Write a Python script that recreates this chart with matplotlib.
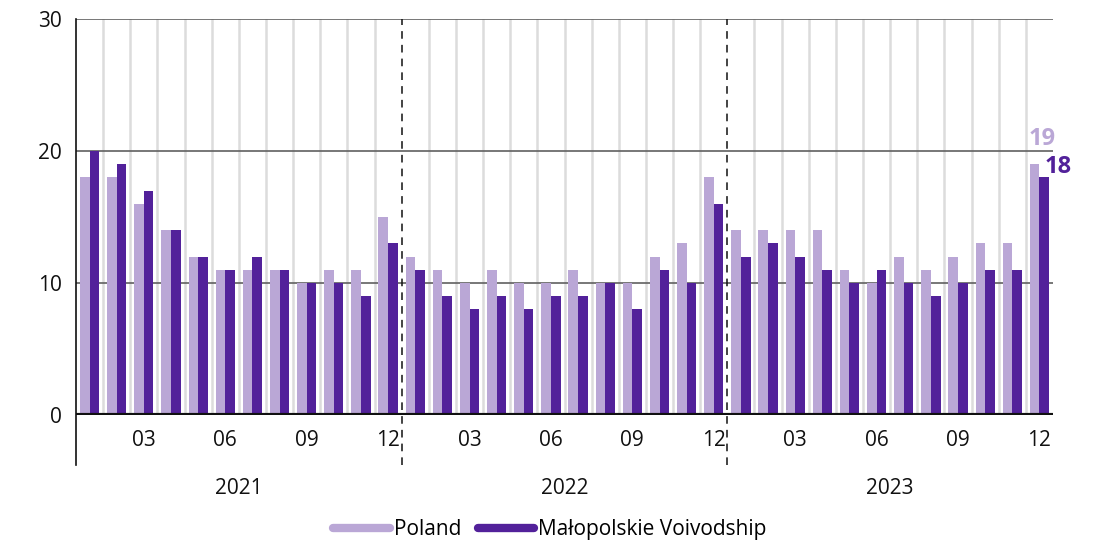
import matplotlib
matplotlib.use('Agg')
import matplotlib.pyplot as plt
import matplotlib.transforms as mtransforms
from matplotlib.lines import Line2D
import numpy as np

plt.rcParams['font.family'] = ['Open Sans', 'DejaVu Sans']

years = ['2021', '2022', '2023']
month_ticks = ['03', '06', '09', '12']
poland = [18, 18, 16, 14, 12, 11, 11, 11, 10, 11, 11, 15,
          12, 11, 10, 11, 10, 10, 11, 10, 10, 12, 13, 18,
          14, 14, 14, 14, 11, 10, 12, 11, 12, 13, 13, 19]
malopolska = [20, 19, 17, 14, 12, 11, 12, 11, 10, 10, 9, 13,
              11, 9, 8, 9, 8, 9, 9, 10, 8, 11, 10, 16,
              12, 13, 12, 11, 10, 11, 10, 9, 10, 11, 11, 18]

light = '#baa7d6'
dark = '#52219a'

n = len(poland)
x = np.arange(n) + 0.5
w = 0.355

fig = plt.figure(figsize=(11, 5.41), dpi=100)
ax = fig.add_axes([0.0691, 0.2329, 0.8882, 0.732])

# month separators
for b in range(1, n):
    if b % 12 == 0:
        continue
    ax.axvline(b, color='#dcdcdc', lw=1.8, zorder=0)

for v in [10, 20, 30]:
    ax.axhline(v, color='#606060', lw=1.2, zorder=1)

ax.bar(x - w / 2, poland, width=w, color=light, zorder=2)
ax.bar(x + w / 2, malopolska, width=w, color=dark, zorder=2)

ax.axhline(0, color='#111111', lw=3, zorder=3)

# year dividers and left axis line reaching down to the year labels
trans = mtransforms.blended_transform_factory(ax.transData, ax.transAxes)
for b in [12, 24]:
    ax.plot([b, b], [-0.126, 1], transform=trans, color='#111111', lw=1.1,
            ls=(0, (5, 4)), clip_on=False, zorder=4)
ax.plot([0, 0], [-0.126, 1], transform=trans, color='#111111', lw=1.2,
        clip_on=False, zorder=4)

ax.set_xlim(0, n)
ax.set_ylim(0, 30)
for s in ax.spines.values():
    s.set_visible(False)

ticks = [y * 12 + m - 0.5 for y in range(len(years)) for m in (3, 6, 9, 12)]
ax.set_xticks(ticks)
ax.set_xticklabels(month_ticks * len(years))
ax.set_yticks([0, 10, 20, 30])
ax.tick_params(axis='both', length=0, labelsize=15, colors='#111111')
ax.tick_params(axis='x', pad=11)
ax.tick_params(axis='y', pad=10)

for i, yr in enumerate(years):
    ax.text(i * 12 + 6, -0.185, yr, transform=trans, ha='center', va='center',
            fontsize=15, color='#111111')

ax.text(x[-1] - w - 0.03, poland[-1] + 1.45, str(poland[-1]), color=light,
        fontsize=17, fontweight='bold', ha='left', va='baseline')
ax.text(x[-1] + 0.2, malopolska[-1] + 0.33, str(malopolska[-1]), color=dark,
        fontsize=17, fontweight='bold', ha='left', va='baseline')

handles = [Line2D([0], [0], color=light, lw=6, solid_capstyle='round'),
           Line2D([0], [0], color=dark, lw=6, solid_capstyle='round')]
fig.legend(handles, ['Poland', 'Małopolskie Voivodship'], loc='lower center',
           bbox_to_anchor=(0.5, -0.033), ncol=2, frameon=False, fontsize=15,
           handlelength=2.7, handletextpad=0.2, columnspacing=0.8)

fig.savefig('out.png', dpi=100)
